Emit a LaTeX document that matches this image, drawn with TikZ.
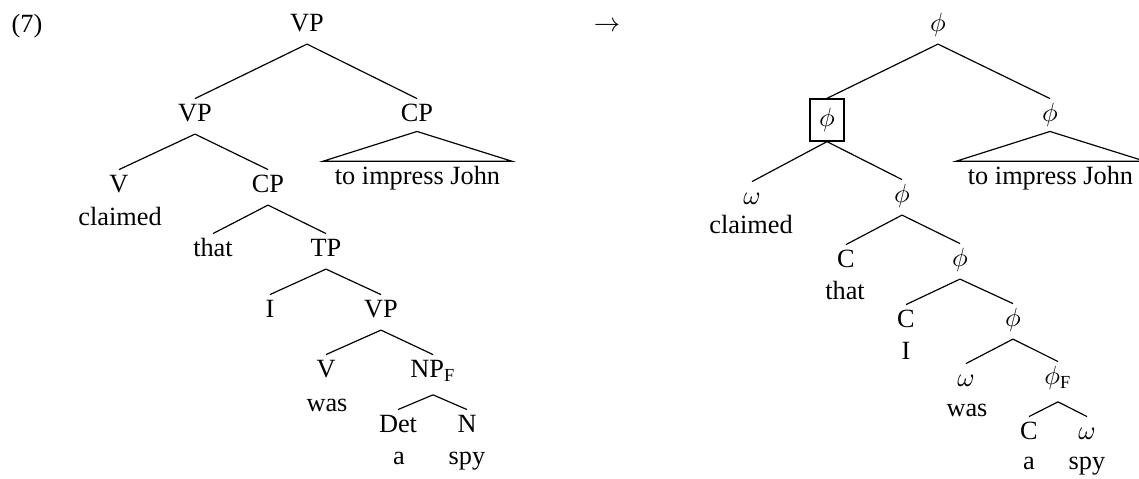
\documentclass[tikz,border=0pt]{standalone}
\usepackage{fontspec}
\setmainfont{Liberation Serif}
\tikzset{%
    % labels sit on their baseline, with a fixed box so every edge keeps the same gap
    cat/.style={anchor=base, inner xsep=1pt, inner ysep=0pt, text height=8.7pt, text depth=4.4pt},
    catF/.style={cat, text depth=6.2pt},
    word/.style={anchor=base, inner sep=0pt},
    roof/.style={anchor=base, inner xsep=4.4pt, inner ysep=0pt, text height=8.8pt, text depth=2pt},
    edge/.style={line width=0.45pt},
    boxed/.style={draw, line width=0.45pt, inner sep=0pt, minimum width=12.9pt, minimum height=16pt},
}

\begin{document}
\begin{tikzpicture}[x=0.38pt, y=-0.38pt]
    \useasboundingbox (0,0) rectangle (1139,479);

    \node[word] (ex) at (27,33) {(7)};

    % syntactic tree
    \node[cat] (vp0) at (307,32) {VP};
    \node[cat] (vp1) at (195,122) {VP};
    \node[cat, text depth=3.4pt] (cp1) at (417,122) {CP};
    \node[roof] (tijL) at (417.5,185) {to impress John};
    \node[cat] (v1) at (119,193) {V};
    \node[cat] (cp2) at (268,193) {CP};
    \node[word] (claimedL) at (120,226) {claimed};
    \node[cat] (that) at (213,257) {that};
    \node[cat] (tp) at (326,257) {TP};
    \node[cat] (i) at (270,318) {I};
    \node[cat] (vp2) at (381,318) {VP};
    \node[cat] (v2) at (326,378) {V};
    \node[catF] (npf) at (433,378) {NP\textsubscript{F}};
    \node[word] (wasL) at (327,412) {was};
    \node[cat] (det) at (398,433) {Det};
    \node[cat] (n) at (467,433) {N};
    \node[word] (aL) at (399,465) {a};
    \node[word] (spyL) at (467,465) {spy};

    \node[word] (to) at (607,32) {$\rightarrow$};

    % prosodic tree
    \node[cat] (ph0) at (938,32) {$\phi$};
    \node[boxed] (phb) at (827,120) {$\phi$};
    \node[cat, text depth=3.4pt] (ph1) at (1050,122) {$\phi$};
    \node[roof] (tijR) at (1050.5,185) {to impress John};
    \node[cat] (om1) at (752,205) {$\omega$};
    \node[word] (claimedR) at (751,234) {claimed};
    \node[cat] (ph2) at (902,203) {$\phi$};
    \node[cat] (c1) at (846,268) {C};
    \node[word] (thatR) at (845,300) {that};
    \node[cat] (ph3) at (960,267) {$\phi$};
    \node[cat] (c2) at (906,328) {C};
    \node[word] (iR) at (906,360) {I};
    \node[cat] (ph4) at (1013,327) {$\phi$};
    \node[cat] (om2) at (966,387) {$\omega$};
    \node[word] (wasR) at (967,417) {was};
    \node[catF] (phf) at (1058,385) {$\phi$\textsubscript{F}};
    \node[cat] (c3) at (1029,440) {C};
    \node[cat] (om3) at (1087,440) {$\omega$};
    \node[word] (aR) at (1029,470) {a};
    \node[word] (spyR) at (1087,470) {spy};

    % edges
    \foreach \p/\c in {vp0/vp1, vp0/cp1, vp1/v1, vp1/cp2, cp2/that, cp2/tp, tp/i, tp/vp2,
                       vp2/v2, vp2/npf, npf/det, npf/n,
                       ph0/phb, ph0/ph1, phb/om1, phb/ph2, ph2/c1, ph2/ph3, ph3/c2, ph3/ph4,
                       ph4/om2, ph4/phf, phf/c3, phf/om3}
        \draw[edge] (\p.south) -- (\c.north);

    % roofs
    \draw[edge] (cp1.south) -- (tijL.north west) -- (tijL.north east) -- cycle;
    \draw[edge] (ph1.south) -- (tijR.north west) -- (tijR.north east) -- cycle;
\end{tikzpicture}
\end{document}
